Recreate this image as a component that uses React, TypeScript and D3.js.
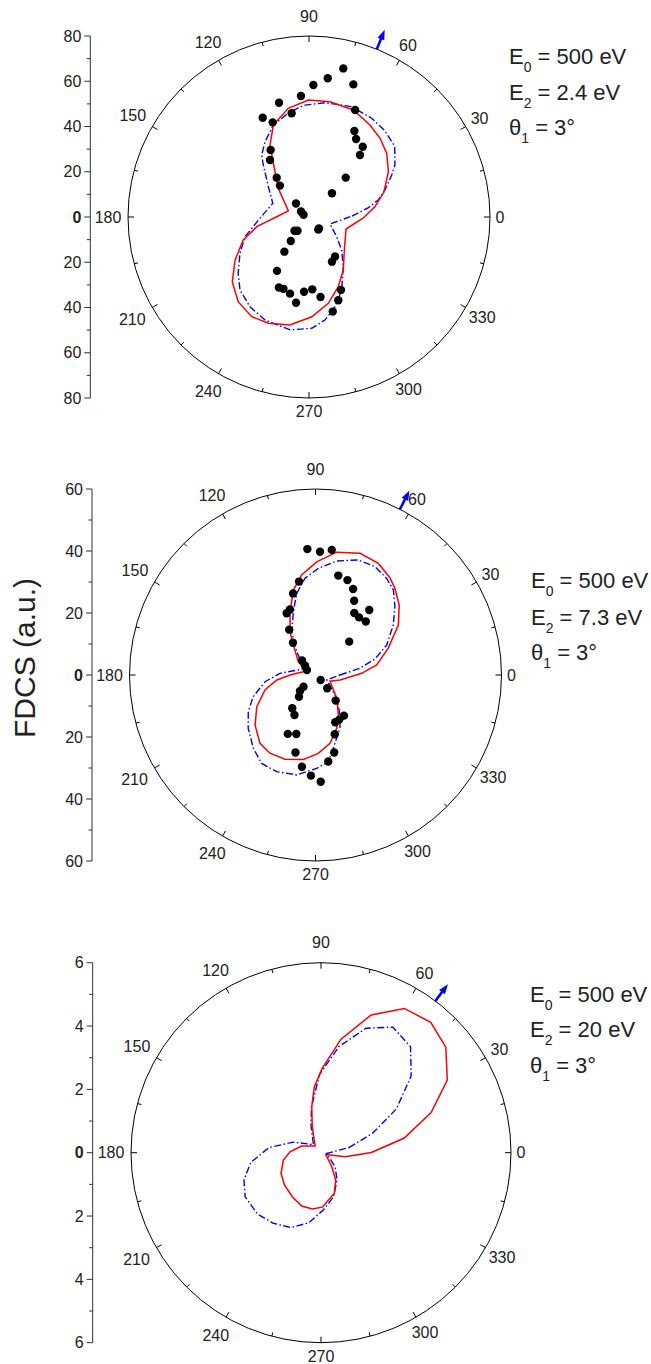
import React from 'react';
import * as d3 from 'd3';

const FONT = "'Liberation Sans', Arial, Helvetica, sans-serif";
const TEXT = '#222';

// ---------- Panel 1 (E2 = 2.4 eV) ----------
const P1_RED_ANG = [8.9, 18.4, 29.7, 39.3, 47.9, 56.5, 67.5, 79.7, 90.3, 100.8, 111.2, 118.4, 125.5, 136.9, 163.8, 179.5, 190.5, 199.3, 210.2, 220.2, 230.1, 240.1, 249, 260, 271.6, 282.6, 292.8, 302.9, 316.9, 342, 359];
const P1_RED_VAL = [29.5, 34.9, 40.4, 44.4, 46.9, 48.8, 51.2, 51.8, 51.7, 48.9, 43.6, 36.2, 26.4, 18.6, 9.5, 14.3, 23.5, 30.8, 37.8, 44.4, 48.8, 50.8, 50.3, 48.5, 44.1, 39.1, 33.4, 27.9, 21.4, 17.2, 24.0];
const P1_BLUE_ANG = [1.3, 8.7, 13.8, 19.6, 26.9, 31.2, 39.5, 48.9, 57.6, 68.8, 82.0, 92.0, 100.2, 111.2, 120.3, 127.3, 131.3, 143.3, 159.3, 181.5, 197.1, 207.8, 218.5, 226.6, 236.7, 246.9, 260.5, 271.4, 278.8, 286.2, 294.1, 304.6, 314.7, 324.6, 341.6];
const P1_BLUE_VAL = [19.0, 26.4, 31.5, 35.6, 41.0, 44.4, 49.1, 50.8, 51.7, 52.3, 51.0, 49.5, 47.3, 43.6, 38.5, 34.5, 30.6, 22.4, 17.1, 21.7, 29.6, 34.5, 40.0, 44.4, 47.5, 49.5, 50.6, 49.2, 46.1, 41.3, 35.4, 26.7, 20.5, 15.0, 9.8];
const P1_DOT_ANG = [77.0, 82.3, 88.1, 71.5, 93.8, 104.7, 115.0, 111.0, 99.5, 66.7, 62.2, 58.9, 52.6, 50.6, 119.8, 124.4, 129.4, 132.8, 47.0, 46.0, 133.9, 145.5, 158.2, 223.4, 230.0, 311.5, 306.6, 232.8, 234.6, 239.3, 246.9, 250.4, 256.1, 261.4, 266.2, 272.6, 278.2, 303.4, 297.2, 293.7, 289.4, 284.1];
const P1_DOT_VAL = [67.4, 61.9, 58.4, 61.8, 53.6, 52.2, 48.4, 44.8, 46.5, 51.5, 43.0, 40.3, 39.1, 35.5, 34.1, 30.5, 22.5, 18.9, 23.8, 14.6, 8.3, 4.3, 2.6, 8.8, 7.9, 6.7, 6.9, 13.3, 18.8, 27.7, 33.9, 33.7, 34.9, 38.3, 33.1, 32.0, 35.7, 20.9, 22.2, 35.2, 39.0, 43.1];

// ---------- Panel 2 (E2 = 7.3 eV) ----------
const P2_RED_ANG = [2.1, 9.3, 20.3, 31.1, 39.9, 47.5, 52.5, 60.6, 69.9, 80.2, 89.4, 97.9, 104.6, 111.9, 120.5, 126.5, 142.3, 153.4, 164.9, 180, 187.3, 196.5, 208.3, 219.6, 230.9, 239.8, 250.1, 261.8, 272.0, 282.0, 291.7, 299.7, 312.3, 336.8, 348.5];
const P2_RED_VAL = [14.9, 20.0, 25.0, 31.2, 35.2, 37.9, 39.5, 41.3, 41.8, 40.2, 36.5, 32.6, 28.3, 22.0, 16.2, 12.0, 7.0, 3.6, 4.1, 8.2, 12.6, 17.0, 21.5, 25.3, 28.4, 29.2, 28.9, 27.5, 25.3, 22.5, 18.5, 14.9, 10.2, 5.1, 8.1];
const P2_BLUE_ANG = [0, 8.6, 15.1, 22.8, 32.7, 40.7, 47.5, 53.6, 61.2, 69.6, 79.5, 88.5, 96.2, 103.0, 109.3, 118.8, 128.9, 149.4, 163.8, 177.3, 187.6, 199.2, 208.6, 218.4, 229.7, 238.6, 248.1, 259.4, 270.7, 278.4, 285.9, 294.7, 301.5, 312.3, 336.5];
const P2_BLUE_VAL = [7.9, 14.5, 19.9, 24.9, 29.8, 33.8, 37.2, 38.7, 39.9, 39.6, 37.4, 34.4, 31.4, 27.0, 21.6, 15.9, 9.7, 4.1, 5.8, 11.5, 16.4, 21.3, 24.7, 27.7, 31.0, 33.4, 33.6, 32.8, 30.1, 28.3, 22.9, 18.9, 15.1, 10.2, 4.0];
const P2_DOT_ANG = [93.7, 87.9, 82.6, 77.1, 71.4, 66.4, 62.5, 58.0, 52.9, 46.8, 50.4, 44.7, 100.0, 105.4, 111.3, 115.0, 120.1, 124.9, 132.9, 137.9, 149.5, 316.1, 224.3, 225.9, 232.7, 235.1, 242.3, 244.8, 252.0, 255.5, 261.6, 267.4, 272.8, 311.6, 308.2, 305.0, 298.0, 292.7, 288.0, 283.6, 278.4];
const P2_DOT_VAL = [40.7, 39.8, 40.7, 32.9, 32.3, 30.3, 27.0, 23.6, 23.3, 23.7, 27.2, 15.3, 30.6, 27.3, 22.7, 22.0, 16.9, 12.7, 6.4, 4.6, 3.2, 2.3, 5.4, 7.2, 8.8, 13.1, 14.6, 21.0, 20.0, 25.8, 29.9, 32.5, 34.5, 5.7, 10.5, 16.0, 16.3, 16.5, 20.1, 25.7, 28.2];

// ---------- Panel 3 (E2 = 20 eV) ----------
const P3_RED_ANG = [0.2, 10.0, 20.0, 29.9, 40.2, 49.9, 60.0, 70.0, 80.0, 89.1, 95.8, 101.4, 108.5, 131.8, 160.9, 178.2, 191, 207.2, 221.4, 236.9, 250.1, 261.2, 271.4, 288.1, 298.3, 307.4, 339, 350.5];
const P3_RED_VAL = [1.59, 2.67, 3.70, 4.60, 5.16, 5.38, 5.26, 4.63, 3.64, 2.67, 2.09, 1.48, 0.87, 0.28, 0.65, 0.98, 1.21, 1.42, 1.54, 1.66, 1.79, 1.80, 1.72, 1.35, 0.98, 0.56, 0.16, 0.77];
const P3_BLUE_ANG = [10.5, 20.6, 30.1, 40.4, 49.8, 60.2, 70.1, 80.4, 91.1, 101.7, 109.9, 133.2, 159.2, 174.3, 187.9, 199.5, 210.1, 224.0, 235.9, 248.1, 260.3, 272.3, 285.8, 300.4, 315, 352];
const P3_BLUE_VAL = [0.90, 1.74, 2.75, 3.74, 4.38, 4.57, 4.18, 3.40, 2.47, 1.48, 0.93, 0.35, 0.94, 1.65, 2.24, 2.58, 2.77, 2.79, 2.69, 2.55, 2.24, 1.81, 1.45, 1.0, 0.63, 0.18];
const P3_DOT_ANG: number[] = [];
const P3_DOT_VAL: number[] = [];

// ---------- labels ----------
const E0_LABEL = '500 eV';
const E2_LABELS = ['2.4 eV', '7.3 eV', '20 eV'];
const THETA1_LABEL = '3°';
const MAX_VALUES = [80, 60, 6];
const MAJOR_STEPS = [20, 20, 2];
const ARROW_ANGLES = [68, 63, 53];
const ANGLE_LABELS = [0, 30, 60, 90, 120, 150, 180, 210, 240, 270, 300, 330];
const Y_TITLE = 'FDCS (a.u.)';

// distance (px) of each angular label centre beyond the circle
const LABEL_GAP: Record<number, number> = {
  0: 10, 30: 16, 60: 17, 90: 20, 120: 21, 150: 22.5, 180: 20, 210: 23, 240: 20.5, 270: 13.5, 300: 18, 330: 19,
};

const rad = (d: number) => (d * Math.PI) / 180;

type PanelCfg = {
  cx: number; cy: number; R: number; axisX: number;
  max: number; major: number; arrow: number;
  textX: number; textY: number[]; e2: string;
  redAng: number[]; redVal: number[];
  blueAng: number[]; blueVal: number[];
  dotAng: number[]; dotVal: number[];
};

const PANELS: PanelCfg[] = [
  { cx: 309, cy: 217, R: 181, axisX: 90.3, max: MAX_VALUES[0], major: MAJOR_STEPS[0], arrow: ARROW_ANGLES[0],
    textX: 509, textY: [64, 99.5, 135], e2: E2_LABELS[0],
    redAng: P1_RED_ANG, redVal: P1_RED_VAL, blueAng: P1_BLUE_ANG, blueVal: P1_BLUE_VAL, dotAng: P1_DOT_ANG, dotVal: P1_DOT_VAL },
  { cx: 315.5, cy: 675, R: 186, axisX: 92, max: MAX_VALUES[1], major: MAJOR_STEPS[1], arrow: ARROW_ANGLES[1],
    textX: 531, textY: [588.3, 625, 660], e2: E2_LABELS[1],
    redAng: P2_RED_ANG, redVal: P2_RED_VAL, blueAng: P2_BLUE_ANG, blueVal: P2_BLUE_VAL, dotAng: P2_DOT_ANG, dotVal: P2_DOT_VAL },
  { cx: 321, cy: 1152.7, R: 190, axisX: 92.7, max: MAX_VALUES[2], major: MAJOR_STEPS[2], arrow: ARROW_ANGLES[2],
    textX: 530, textY: [1001.7, 1037.3, 1073.3], e2: E2_LABELS[2],
    redAng: P3_RED_ANG, redVal: P3_RED_VAL, blueAng: P3_BLUE_ANG, blueVal: P3_BLUE_VAL, dotAng: P3_DOT_ANG, dotVal: P3_DOT_VAL },
];

function Panel({ p }: { p: PanelCfg }) {
  const r = d3.scaleLinear().domain([0, p.max]).range([0, p.R]);
  const line = d3
    .lineRadial<[number, number]>()
    .angle((d) => rad(90 - d[0]))
    .radius((d) => r(d[1]))
    .curve(d3.curveLinearClosed);
  const red = line(p.redAng.map((a, i) => [a, p.redVal[i]] as [number, number])) || '';
  const blue = line(p.blueAng.map((a, i) => [a, p.blueVal[i]] as [number, number])) || '';

  const y = d3.scaleLinear().domain([-p.max, p.max]).range([p.cy + p.R, p.cy - p.R]);
  const minor = p.major / 2;
  const majorTicks = d3.range(-p.max, p.max + 1e-9, p.major);
  const minorTicks = d3.range(-p.max + minor, p.max, p.major);

  const angTicks = d3.range(0, 360, 15);

  const a = rad(p.arrow);
  const ux = Math.cos(a), uy = -Math.sin(a);
  const px = -uy, py = ux;
  const P = (d: number, off = 0) => [p.cx + ux * d + px * off, p.cy + uy * d + py * off];
  const s0 = P(p.R), s1 = P(p.R + 13);
  const tip = P(p.R + 21), h1 = P(p.R + 11, 3.6), h2 = P(p.R + 11, -3.6);

  return (
    <g>
      {/* left radial axis */}
      <line x1={p.axisX} x2={p.axisX} y1={y(p.max)} y2={y(-p.max)} stroke="#333" strokeWidth={1} />
      {majorTicks.map((v) => (
        <g key={'M' + v}>
          <line x1={p.axisX - 6} x2={p.axisX} y1={y(v)} y2={y(v)} stroke="#333" strokeWidth={1} />
          <text x={p.axisX - 9} y={y(v)} dy="0.35em" textAnchor="end" fontSize={16} fill={TEXT}
            fontWeight={Math.abs(v) < 1e-9 ? 'bold' : 'normal'}>
            {d3.format('d')(Math.abs(v))}
          </text>
        </g>
      ))}
      {minorTicks.map((v) => (
        <line key={'m' + v} x1={p.axisX - 3.5} x2={p.axisX} y1={y(v)} y2={y(v)} stroke="#333" strokeWidth={1} />
      ))}

      {/* polar frame */}
      <circle cx={p.cx} cy={p.cy} r={p.R} fill="none" stroke="#000" strokeWidth={1} />
      {angTicks.map((t) => {
        const len = t % 30 === 0 ? 6 : 4;
        const c = Math.cos(rad(t)), s = Math.sin(rad(t));
        return (
          <line key={'t' + t}
            x1={p.cx + c * p.R} y1={p.cy - s * p.R}
            x2={p.cx + c * (p.R - len)} y2={p.cy - s * (p.R - len)}
            stroke="#000" strokeWidth={1} />
        );
      })}
      {ANGLE_LABELS.map((t) => {
        const dist = p.R + LABEL_GAP[t];
        return (
          <text key={'l' + t} x={p.cx + Math.cos(rad(t)) * dist} y={p.cy - Math.sin(rad(t)) * dist}
            dy="0.35em" textAnchor="middle" fontSize={16} fill={TEXT}>
            {String(t)}
          </text>
        );
      })}

      {/* curves */}
      <g transform={`translate(${p.cx},${p.cy})`}>
        <path d={blue} fill="none" stroke="#0000ff" strokeWidth={1.4} strokeDasharray="7 2.5 1.5 2.5" />
        <path d={red} fill="none" stroke="#ff0000" strokeWidth={1.5} strokeLinejoin="miter" />
      </g>

      {/* experimental points */}
      {p.dotAng.map((t, i) => (
        <circle key={'d' + i}
          cx={p.cx + r(p.dotVal[i]) * Math.cos(rad(t))}
          cy={p.cy - r(p.dotVal[i]) * Math.sin(rad(t))}
          r={4.2} fill="#000" />
      ))}

      {/* momentum transfer arrow */}
      <line x1={s0[0]} y1={s0[1]} x2={s1[0]} y2={s1[1]} stroke="#0000ff" strokeWidth={2.6} />
      <polygon points={`${tip[0]},${tip[1]} ${h1[0]},${h1[1]} ${h2[0]},${h2[1]}`} fill="#0000ff" />

      {/* annotation */}
      <text x={p.textX} y={p.textY[0]} fontSize={22} fill={TEXT}>
        <tspan>E</tspan>
        <tspan dy={8} fontSize={14}>0</tspan>
        <tspan dy={-8}>{' = ' + E0_LABEL}</tspan>
      </text>
      <text x={p.textX} y={p.textY[1]} fontSize={22} fill={TEXT}>
        <tspan>E</tspan>
        <tspan dy={8} fontSize={14}>2</tspan>
        <tspan dy={-8}>{' = ' + p.e2}</tspan>
      </text>
      <text x={p.textX} y={p.textY[2]} fontSize={22} fill={TEXT}>
        <tspan>θ</tspan>
        <tspan dy={8} fontSize={14}>1</tspan>
        <tspan dy={-8}>{' = ' + THETA1_LABEL}</tspan>
      </text>
    </g>
  );
}

export default function App() {
  return (
    <svg width={651} height={1364} viewBox="0 0 651 1364"
      style={{ position: 'absolute', left: 0, top: 0, background: '#fff' }}
      fontFamily={FONT}>
      <rect x={0} y={0} width={651} height={1364} fill="#fff" />
      {PANELS.map((p, i) => (
        <Panel key={i} p={p} />
      ))}
      <text transform="translate(35,658) rotate(-90)" textAnchor="middle" fontSize={30} fill={TEXT}>
        {Y_TITLE}
      </text>
    </svg>
  );
}
